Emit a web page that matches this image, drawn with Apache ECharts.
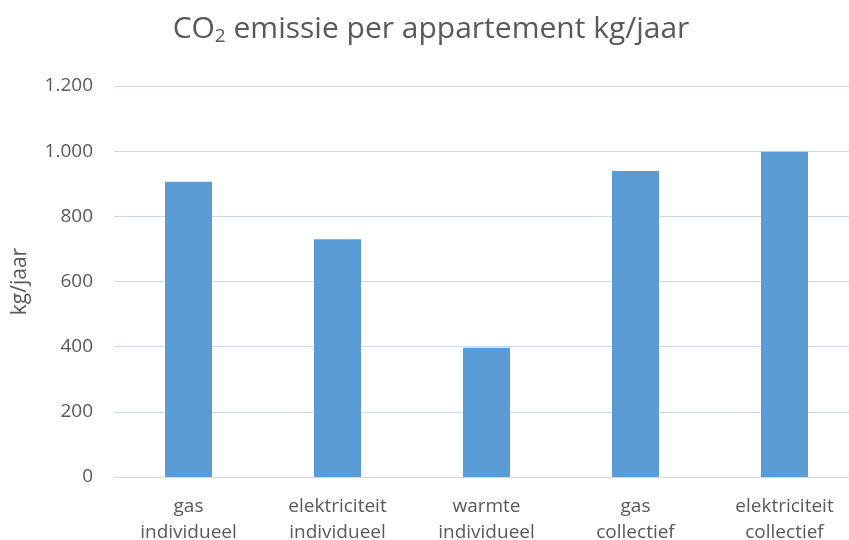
<!DOCTYPE html>
<html>
<head>
<meta charset="utf-8">
<script src="https://cdn.jsdelivr.net/npm/echarts@6/dist/echarts.min.js"></script>
<style>html,body{margin:0;padding:0;background:#fff}#c{width:849px;height:540px}</style>
</head>
<body>
<div id="c"></div>
<script>
const categories = ['gas\nindividueel', 'elektriciteit\nindividueel', 'warmte\nindividueel', 'gas\ncollectief', 'elektriciteit\ncollectief'];
const values = [906, 730, 397, 939, 998];
const yTicks = [0, 200, 400, 600, 800, 1000, 1200];

const chart = echarts.init(document.getElementById('c'), null, {renderer: 'canvas'});
const font = '"Open Sans", sans-serif';
chart.setOption({
  animation: false,
  title: {
    text: '{t|CO}{s|2}{t| emissie per appartement kg/jaar}',
    left: 426,
    textAlign: 'center',
    top: 8,
    textStyle: {
      rich: {
        t: {fontFamily: font, fontSize: 30, fontWeight: 'normal', color: '#595959'},
        s: {fontFamily: font, fontSize: 19, fontWeight: 'normal', color: '#595959', padding: [14, 0, 0, 0]}
      }
    }
  },
  grid: {left: 114, right: -10, top: 86, bottom: 63, containLabel: false, outerBoundsMode: 'none'},
  xAxis: {
    type: 'category',
    data: categories,
    axisLine: {lineStyle: {color: '#d9d9d9', width: 1}},
    axisTick: {show: false},
    axisLabel: {color: '#595959', fontFamily: font, fontSize: 19, lineHeight: 26, margin: 17}
  },
  yAxis: {
    type: 'value',
    min: yTicks[0],
    max: yTicks[yTicks.length - 1],
    interval: 200,
    name: 'kg/jaar',
    nameLocation: 'middle',
    nameGap: 83,
    nameTextStyle: {color: '#595959', fontFamily: font, fontSize: 21},
    axisLine: {show: false},
    axisTick: {show: false},
    splitLine: {lineStyle: {color: '#c9daf0', width: 1}},
    axisLabel: {
      color: '#595959', fontFamily: font, fontSize: 19, margin: 21,
      formatter: v => v >= 1000 ? Math.floor(v / 1000) + '.' + String(v % 1000).padStart(3, '0') : String(v)
    }
  },
  series: [{
    type: 'bar',
    data: values,
    barWidth: 47,
    itemStyle: {color: '#5b9bd5'}
  }]
});
</script>
</body>
</html>
